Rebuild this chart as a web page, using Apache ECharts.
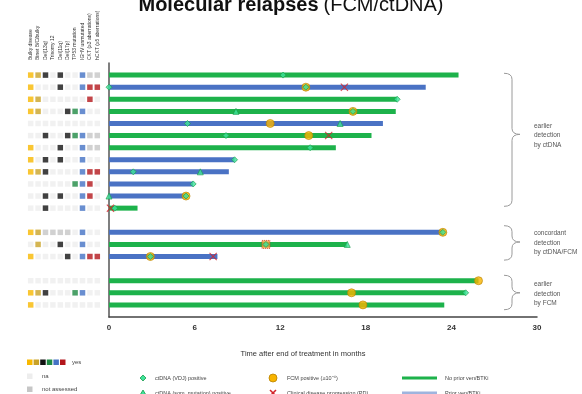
<!DOCTYPE html>
<html>
<head>
<meta charset="utf-8">
<script src="https://cdn.jsdelivr.net/npm/echarts@6/dist/echarts.min.js"></script>
<style>
  html, body { margin: 0; background: #fff; }
  #chart { width: 582px; height: 394px; }
</style>
</head>
<body>
<div id="chart"></div>
<script>
// row positions (gaps at 13 and 17 separate the three groups)
const rowPos = [1, 2, 3, 4, 5, 6, 7, 8, 9, 10, 11, 12, 14, 15, 16, 18, 19, 20];
// follow-up in months, and whether the patient had prior ven/BTKi (1 = blue)
const endMonths = [24.5, 22.2, 20.2, 20.1, 19.2, 18.4, 15.9, 8.8, 8.4, 5.9, 5.5, 2.0, 23.4, 16.7, 7.6, 25.9, 25.0, 23.5];
const priorVen = [0, 1, 0, 0, 1, 0, 0, 1, 1, 1, 1, 0, 1, 0, 1, 0, 0, 0];

// events [month, row]
const vdjPositive = [[12.2, 1], [0, 2], [13.8, 2], [20.2, 3], [17.1, 4], [5.5, 5], [8.2, 6], [14.1, 7], [8.8, 8],
  [1.7, 9], [5.9, 10], [5.4, 11], [0.4, 12], [23.4, 14], [11.0, 15], [2.9, 16], [25.0, 19]];
const somMutation = [[8.9, 4], [16.2, 5], [6.4, 9], [0, 11], [16.7, 15]];
const fcmPositive = [[13.8, 2], [17.1, 4], [11.3, 5], [14.0, 6], [5.4, 11], [23.4, 14], [2.9, 16], [25.9, 18], [17.0, 19], [17.8, 20]];
const fcmBoxed = [[11.0, 15]];
const progression = [[16.5, 2], [15.4, 6], [0.1, 12], [7.3, 16]];

// risk factor matrix: 0 = na, 1 = yes, 2 = not assessed
const riskLabels = ['Bulky disease', 'Binet B/C/bulky', 'Del(13q)', 'Trisomy 12', 'Del(11q)', 'Del(17p)',
  'TP53 mutation', 'IGHV unmutated', 'CKT (≥3 aberrations)', 'hCKT (≥5 aberrations)'];
const riskColors = ['#f8b800', '#c9a227', '#111111', '#111111', '#111111', '#111111', '#1f8a44', '#4472c4', '#b3161c', '#b3161c'];
const riskMatrix = [
  [1, 1, 1, 0, 1, 0, 0, 1, 2, 2],
  [1, 0, 0, 0, 1, 0, 0, 1, 1, 1],
  [1, 1, 0, 0, 0, 0, 0, 0, 1, 0],
  [1, 1, 0, 0, 0, 1, 1, 1, 0, 0],
  [0, 0, 0, 0, 0, 0, 0, 0, 0, 0],
  [0, 0, 1, 0, 0, 1, 1, 1, 2, 2],
  [1, 0, 0, 0, 1, 0, 0, 1, 2, 2],
  [1, 0, 1, 0, 1, 0, 0, 1, 0, 0],
  [1, 1, 1, 0, 0, 0, 0, 1, 1, 1],
  [0, 0, 0, 0, 0, 0, 1, 1, 1, 0],
  [0, 0, 1, 0, 1, 0, 0, 1, 1, 0],
  [0, 0, 1, 0, 0, 0, 0, 1, 0, 0],
  [1, 1, 2, 2, 2, 2, 0, 1, 0, 0],
  [0, 1, 0, 0, 1, 0, 0, 1, 0, 0],
  [1, 0, 0, 0, 0, 1, 0, 1, 1, 1],
  [0, 0, 0, 0, 0, 0, 0, 0, 0, 0],
  [1, 1, 1, 0, 0, 0, 1, 1, 0, 0],
  [1, 0, 0, 0, 0, 0, 0, 0, 0, 0]
];

// groups: [top row, bottom row, tip row, label]
const groups = [
  [0.85, 11.85, 5.9, 'earlier\ndetection\nby ctDNA'],
  [13.45, 16.3, 14.8, 'concordant\ndetection\nby ctDNA/FCM'],
  [17.55, 20.4, 19.0, 'earlier\ndetection\nby FCM']
];

const GREEN = '#1db24b';
const BLUE = '#4a72c4';
const NA = '#ededed';
const NOT_ASSESSED = '#c6c6c6';
const FONT = 'Liberation Sans';
const CROSS = 'path://M0,1 L1,0 L5,4 L9,0 L10,1 L6,5 L10,9 L9,10 L5,6 L1,10 L0,9 L4,5 Z';

const chart = echarts.init(document.getElementById('chart'));

const bars = rowPos.map((r, i) => [endMonths[i], r, priorVen[i]]);
const matrixData = [];
riskMatrix.forEach((row, i) => {
  row.forEach((v, c) => {
    matrixData.push({
      value: [c, rowPos[i]],
      itemStyle: { color: v === 1 ? riskColors[c] : (v === 2 ? NOT_ASSESSED : NA) }
    });
  });
});

const option = {
  animation: false,
  textStyle: { fontFamily: FONT },
  title: {
    text: '{b|Molecular relapses} {n|(FCM/ctDNA)}',
    left: 'center',
    top: -10,
    textStyle: {
      fontWeight: 'normal',
      rich: {
        b: { fontFamily: FONT, fontWeight: 'bold', fontSize: 20, color: '#111' },
        n: { fontFamily: FONT, fontWeight: 'normal', fontSize: 20, color: '#111' }
      }
    }
  },
  grid: [
    { left: 109, right: 45, top: 63, bottom: 77 },
    { left: 27, width: 74, top: 63, bottom: 77 }
  ],
  xAxis: [
    {
      type: 'value', gridIndex: 0, min: 0, max: 30, interval: 6,
      axisLine: { show: true, onZero: false, lineStyle: { color: '#444', width: 1.5 } },
      axisTick: { show: false },
      splitLine: { show: false },
      axisLabel: { margin: 7, fontSize: 8, fontWeight: 'bold', color: '#333' },
      name: 'Time after end of treatment in months',
      nameLocation: 'middle',
      nameGap: 33,
      nameTextStyle: { fontSize: 7.5, color: '#333', padding: [0, 40, 0, 0] }
    },
    {
      type: 'category', gridIndex: 1, position: 'top', data: riskLabels,
      axisLine: { show: false }, axisTick: { show: false },
      axisLabel: { rotate: 90, fontSize: 5, color: '#333', margin: 3, interval: 0 }
    }
  ],
  yAxis: [
    {
      type: 'value', gridIndex: 0, min: 0, max: 21, inverse: true,
      axisLine: { show: true, onZero: false, lineStyle: { color: '#555', width: 1.5 } },
      axisTick: { show: false }, axisLabel: { show: false }, splitLine: { show: false }
    },
    {
      type: 'value', gridIndex: 1, min: 0, max: 21, inverse: true, show: false
    }
  ],
  series: [
    {
      type: 'custom',
      xAxisIndex: 0, yAxisIndex: 0,
      encode: { x: 0, y: 1 },
      data: bars,
      z: 2,
      renderItem: function (params, api) {
        const row = api.value(1);
        const p0 = api.coord([0, row]);
        const p1 = api.coord([api.value(0), row]);
        return {
          type: 'rect',
          shape: { x: p0[0], y: p0[1] - 2.5, width: p1[0] - p0[0], height: 5 },
          style: { fill: api.value(2) ? BLUE : GREEN }
        };
      }
    },
    {
      type: 'scatter', xAxisIndex: 0, yAxisIndex: 0, z: 3,
      data: fcmPositive, symbol: 'circle', symbolSize: 8,
      itemStyle: { color: '#f8b400', borderColor: '#b98300', borderWidth: 0.8 }
    },
    {
      type: 'scatter', xAxisIndex: 0, yAxisIndex: 0, z: 3,
      data: fcmBoxed, symbol: 'rect', symbolSize: 8,
      itemStyle: { color: '#f0a43a', borderColor: '#d03a2a', borderWidth: 1, borderType: 'dotted' }
    },
    {
      type: 'scatter', xAxisIndex: 0, yAxisIndex: 0, z: 4,
      data: vdjPositive, symbol: 'diamond', symbolSize: 6,
      itemStyle: { color: '#3fe39a', borderColor: '#1b9a4c', borderWidth: 0.8 }
    },
    {
      type: 'scatter', xAxisIndex: 0, yAxisIndex: 0, z: 4,
      data: somMutation, symbol: 'triangle', symbolSize: 6,
      itemStyle: { color: '#3fe39a', borderColor: '#1b9a4c', borderWidth: 0.8 }
    },
    {
      type: 'scatter', xAxisIndex: 0, yAxisIndex: 0, z: 5,
      data: progression, symbol: CROSS, symbolSize: 8,
      itemStyle: { color: '#d2232a' }
    },
    {
      type: 'scatter', xAxisIndex: 1, yAxisIndex: 1,
      data: matrixData, symbol: 'rect', symbolSize: 5.5
    }
  ]
};

chart.setOption(option);

// annotations: braces, group labels, legends
const graphics = [];
const braceStyle = { fill: 'none', stroke: '#9a9a9a', lineWidth: 1 };
function curve(x1, y1, cx, cy, x2, y2) {
  graphics.push({ type: 'bezierCurve', shape: { x1: x1, y1: y1, cpx1: cx, cpy1: cy, x2: x2, y2: y2 }, style: braceStyle });
}
function segment(x1, y1, x2, y2, style) {
  graphics.push({ type: 'line', shape: { x1: x1, y1: y1, x2: x2, y2: y2 }, style: style || braceStyle });
}
groups.forEach(g => {
  const x0 = 504, x1 = 520, xm = 512, r = 6;
  const y0 = chart.convertToPixel({ gridIndex: 0 }, [0, g[0]])[1];
  const y1 = chart.convertToPixel({ gridIndex: 0 }, [0, g[1]])[1];
  const ym = chart.convertToPixel({ gridIndex: 0 }, [0, g[2]])[1];
  curve(x0, y0, xm, y0, xm, y0 + r);
  segment(xm, y0 + r, xm, ym - r);
  curve(xm, ym - r, xm, ym, x1, ym);
  curve(x1, ym, xm, ym, xm, ym + r);
  segment(xm, ym + r, xm, y1 - r);
  curve(xm, y1 - r, xm, y1, x0, y1);
  graphics.push({
    type: 'text', x: 534, y: ym + 1,
    style: { text: g[3], fontFamily: FONT, fontSize: 6.5, lineHeight: 9.5, fill: '#555', verticalAlign: 'middle' }
  });
});

// left legend for the risk matrix
const yesColors = ['#f8b800', '#c9a227', '#111111', '#1f8a44', '#4472c4', '#b3161c'];
yesColors.forEach((c, i) => {
  graphics.push({ type: 'rect', shape: { x: 27 + i * 6.6, y: 359.5, width: 5.5, height: 5.5 }, style: { fill: c } });
});
graphics.push({ type: 'text', x: 72, y: 362, style: { text: 'yes', fontFamily: FONT, fontSize: 6, fill: '#444', verticalAlign: 'middle' } });
graphics.push({ type: 'rect', shape: { x: 27, y: 373.5, width: 5.5, height: 5.5 }, style: { fill: NA } });
graphics.push({ type: 'text', x: 42, y: 376, style: { text: 'na', fontFamily: FONT, fontSize: 6, fill: '#444', verticalAlign: 'middle' } });
graphics.push({ type: 'rect', shape: { x: 27, y: 386.5, width: 5.5, height: 5.5 }, style: { fill: NOT_ASSESSED } });
graphics.push({ type: 'text', x: 42, y: 389, style: { text: 'not assessed', fontFamily: FONT, fontSize: 6, fill: '#444', verticalAlign: 'middle' } });

// series legend
function legendText(x, y, t) {
  graphics.push({ type: 'text', x: x, y: y, style: { text: t, fontFamily: FONT, fontSize: 5.5, fill: '#444', verticalAlign: 'middle' } });
}
const markStyle = { fill: '#3fe39a', stroke: '#1b9a4c', lineWidth: 0.8 };
graphics.push({ type: 'polygon', shape: { points: [[143, 375], [146, 378], [143, 381], [140, 378]] }, style: markStyle });
legendText(155, 378, 'ctDNA (VDJ) positive');
graphics.push({ type: 'polygon', shape: { points: [[143, 390], [146, 395], [140, 395]] }, style: markStyle });
legendText(155, 393, 'ctDNA (som. mutation) positive');
graphics.push({ type: 'circle', shape: { cx: 273, cy: 378, r: 4 }, style: { fill: '#f8b400', stroke: '#b98300', lineWidth: 0.8 } });
legendText(287, 378, 'FCM positive (≥10⁻⁴)');
segment(270, 390, 276, 396, { stroke: '#d2232a', lineWidth: 1.5 });
segment(276, 390, 270, 396, { stroke: '#d2232a', lineWidth: 1.5 });
legendText(287, 393, 'Clinical disease progression (PD)');
graphics.push({ type: 'rect', shape: { x: 402, y: 376.5, width: 35, height: 3 }, style: { fill: GREEN } });
legendText(445, 378, 'No prior ven/BTKi');
graphics.push({ type: 'rect', shape: { x: 402, y: 391.5, width: 35, height: 3 }, style: { fill: '#9fb4de' } });
legendText(445, 393, 'Prior ven/BTKi');

chart.setOption({ graphic: graphics });
</script>
</body>
</html>
